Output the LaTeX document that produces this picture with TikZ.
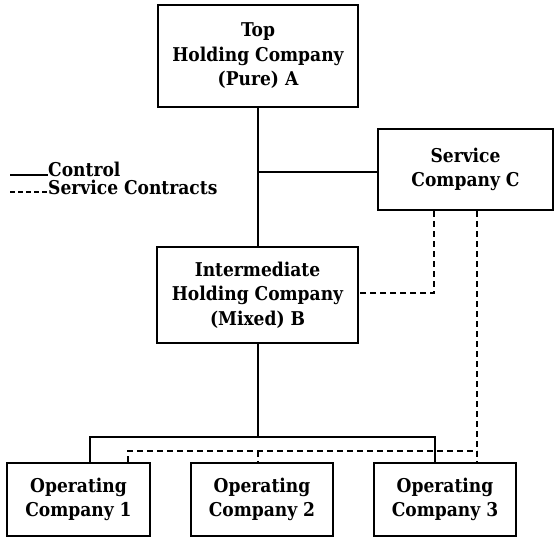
\documentclass[tikz,border=0pt]{standalone}
\usepackage{fontspec}
\setmainfont{DejaVu Serif Condensed}
\begin{document}
\begin{tikzpicture}[x=1pt,y=-1pt,
  box/.style={draw,line width=2pt,inner sep=0pt,align=center,font=\bfseries\fontsize{19}{24.5}\selectfont},
  ctrl/.style={line width=2pt},
  svc/.style={line width=2pt,dash pattern=on 6pt off 4pt},
  lbl/.style={inner sep=0pt,font=\bfseries\fontsize{19}{24}\selectfont}]
\useasboundingbox (0,0) rectangle (556,537);
% boxes
\node[box,minimum width=200pt,minimum height=102pt] (A) at (258,56) {Top\\Holding Company\\(Pure) A};
\node[box,minimum width=201pt,minimum height=96pt] (B) at (257.5,295) {Intermediate\\Holding Company\\(Mixed) B};
\node[box,minimum width=175pt,minimum height=81pt] (C) at (465.5,169.5) {Service\\Company C};
\node[box,minimum width=143pt,minimum height=73pt] (O1) at (78.5,499.5) {Operating\\Company 1};
\node[box,minimum width=142pt,minimum height=73pt] (O2) at (262,499.5) {Operating\\Company 2};
\node[box,minimum width=142pt,minimum height=73pt] (O3) at (445,499.5) {Operating\\Company 3};
% control lines
\coordinate (j) at (258,172);
\coordinate (br) at (258,437);
\draw[ctrl] (A.south -| j) -- (B.north -| j);
\draw[ctrl] (j) -- (C.west |- j);
\draw[ctrl] (B.south -| br) -- (br);
\draw[ctrl] (O1.north -| 90,0) -- (90,437) -- (435,437) -- (O3.north -| 435,0);
% service lines
\draw[svc] (C.south -| 434,0) -- (434,293) -- (B.east |- 0,293);
\draw[svc] (C.south -| 477,0) -- (O3.north -| 477,0);
\draw[svc] (O1.north -| 128,0) -- (128,451) -- (477,451);
\draw[svc] (258,451) -- (O2.north -| 258,0);
% legend
\node[lbl,anchor=base west] (lc) at (48,177) {Control};
\node[lbl,anchor=base west] (ls) at (48,195) {Service Contracts};
\coordinate (lc0) at (10,175);
\coordinate (ls0) at (10,192);
\draw[line width=1.5pt] (lc0) -- (lc.base west |- lc0);
\draw[line width=1.5pt,dash pattern=on 5pt off 3pt] (ls0) -- (ls.base west |- ls0);
\end{tikzpicture}
\end{document}
